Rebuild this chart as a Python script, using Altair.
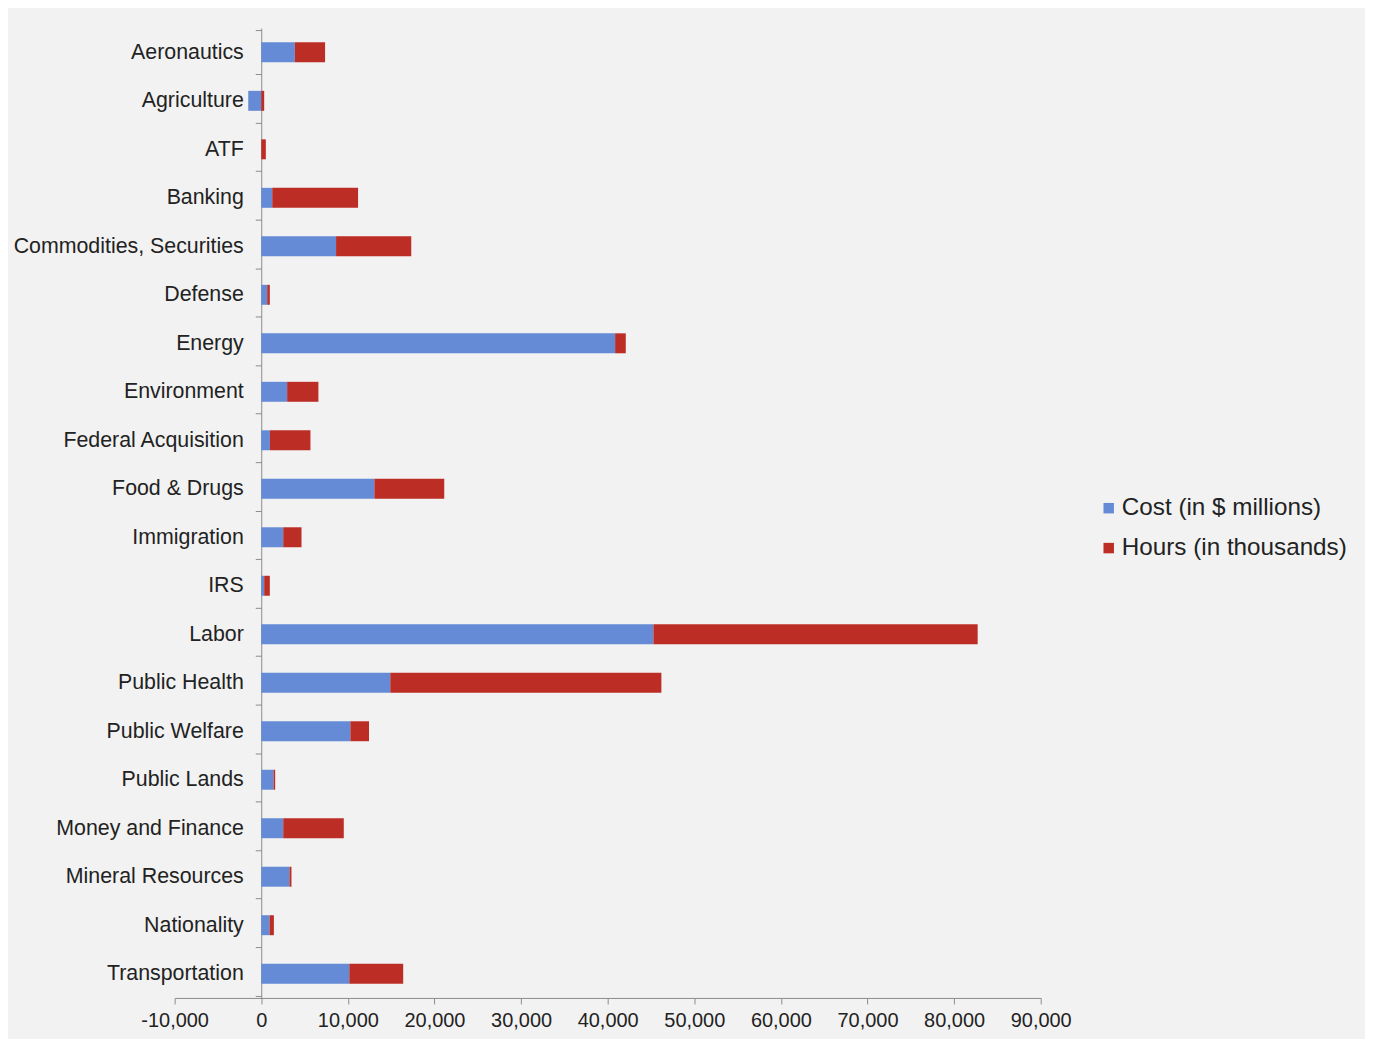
import altair as alt
import pandas as pd

categories = ["Aeronautics", "Agriculture", "ATF", "Banking", "Commodities, Securities",
              "Defense", "Energy", "Environment", "Federal Acquisition", "Food & Drugs",
              "Immigration", "IRS", "Labor", "Public Health", "Public Welfare",
              "Public Lands", "Money and Finance", "Mineral Resources", "Nationality",
              "Transportation"]
cost = [3880, -1500, 0, 1270, 8640, 690, 40860, 2990, 1000, 13060,
        2540, 340, 45280, 14900, 10290, 1420, 2540, 3260, 960, 10170]
hours = [3490, 340, 530, 9910, 8680, 300, 1230, 3610, 4680, 8070,
         2110, 650, 37440, 31300, 2150, 190, 6990, 230, 500, 6220]
series = ["Cost (in $ millions)", "Hours (in thousands)"]
colors = ["#658ad6", "#bc2d25"]
x_ticks = [-10000, 0, 10000, 20000, 30000, 40000, 50000, 60000, 70000, 80000, 90000]

rows = []
for c, a, b in zip(categories, cost, hours):
    rows.append({"category": c, "series": series[0], "value": a, "ord": 0})
    rows.append({"category": c, "series": series[1], "value": b, "ord": 1})
df = pd.DataFrame(rows)

W, H = 868, 972
font = "Liberation Sans"

chart = alt.Chart(df).mark_bar(size=20).encode(
    y=alt.Y("category:N", sort=categories, title=None,
            axis=alt.Axis(offset=-86.8, tickBand="extent", tickSize=6,
                          labelPadding=12, labelFontSize=21.4, labelFont=font,
                          labelColor="#222222", domainColor="#8c8c8c",
                          tickColor="#8c8c8c", labelLimit=400)),
    x=alt.X("value:Q", stack="zero", title=None,
            scale=alt.Scale(domain=[-10000, 90000], nice=False, zero=False),
            axis=alt.Axis(values=x_ticks, format=",d", grid=False, tickSize=6,
                          labelPadding=7, labelFontSize=20, labelFont=font,
                          labelExpr="replace(datum.label, '\u2212', '-')",
                          labelColor="#222222", domainColor="#8c8c8c",
                          tickColor="#8c8c8c", labelFlush=False)),
    color=alt.Color("series:N", scale=alt.Scale(domain=series, range=colors),
                    legend=alt.Legend(title=None, orient="none", legendX=924,
                                      legendY=469, symbolType="square",
                                      symbolSize=110, symbolStrokeWidth=0,
                                      labelFontSize=24.3, labelFont=font,
                                      labelColor="#222222", rowPadding=15,
                                      labelOffset=1, padding=0, labelLimit=400)),
    order=alt.Order("ord:Q"),
).properties(
    width=W, height=H,
    autosize=alt.AutoSizeParams(type="none"),
    padding={"left": 167, "top": 19, "right": 325, "bottom": 40},
).configure(background="#f2f2f2").configure_view(stroke=None)

chart.save("out.html", embed_options={"renderer": "svg", "actions": False})
